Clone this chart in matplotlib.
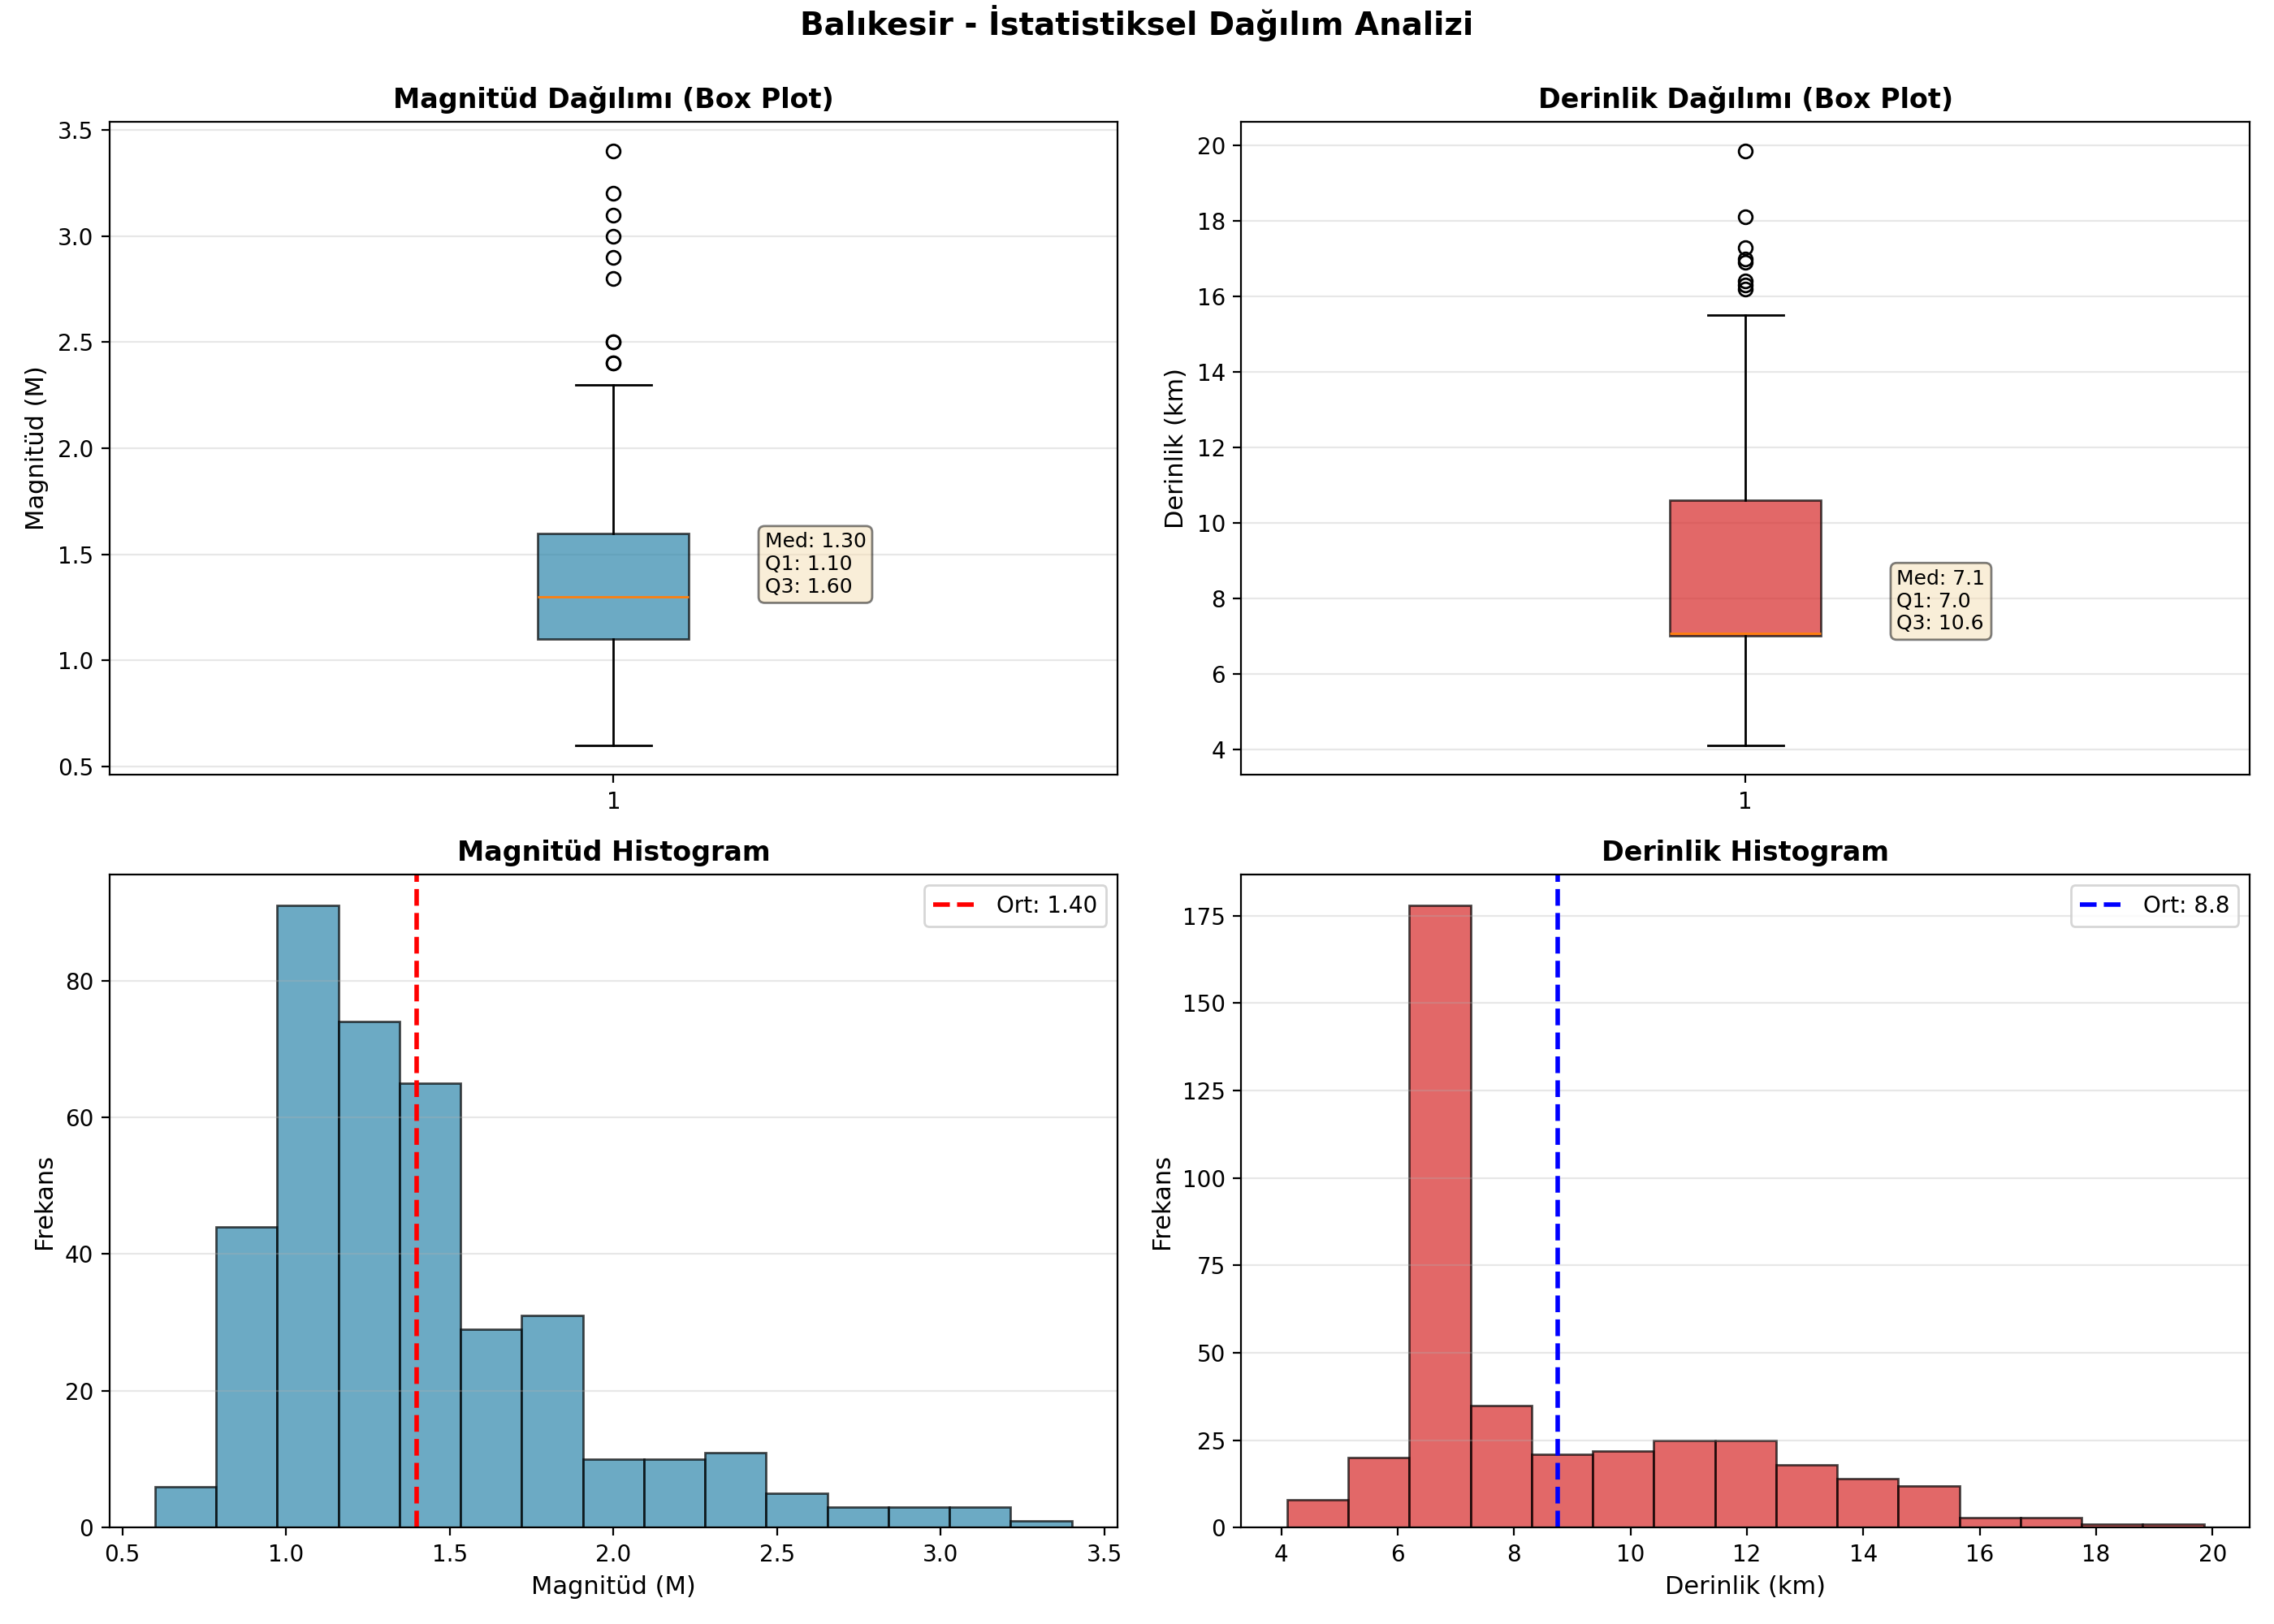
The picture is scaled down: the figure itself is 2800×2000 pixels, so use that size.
import numpy as np
import matplotlib
matplotlib.use("Agg")
from matplotlib import pyplot as plt

# box plot istatistikleri
mag_med, mag_q1, mag_q3 = 1.30, 1.10, 1.60
mag_whislo, mag_whishi = 0.6, 2.3
mag_fliers = [2.4, 2.4, 2.5, 2.5, 2.8, 2.9, 3.0, 3.1, 3.2, 3.4]
mag_mean = 1.40

der_med, der_q1, der_q3 = 7.06, 7.0, 10.6
der_whislo, der_whishi = 4.1, 15.5
der_fliers = [16.2, 16.3, 16.4, 16.9, 17.0, 17.3, 18.1, 19.85]
der_mean = 8.75

# histogram frekanslari (15 bin)
mag_min, mag_max = 0.6, 3.4
mag_counts = [6, 44, 91, 74, 65, 29, 31, 10, 10, 11, 5, 3, 3, 3, 1]
der_min, der_max = 4.1, 19.85
der_counts = [8, 20, 178, 35, 21, 22, 25, 25, 18, 14, 12, 3, 3, 1, 1]

mavi = "#2E86AB"
kirmizi = "#D62828"

fig, axes = plt.subplots(2, 2, figsize=(14, 10))
st = fig.suptitle("Balıkesir - İstatistiksel Dağılım Analizi", fontsize=14, fontweight="bold")


def kutu(ax, med, q1, q3, lo, hi, fl, renk, baslik, etiket, fmt):
    stats = [{"med": med, "q1": q1, "q3": q3, "whislo": lo, "whishi": hi, "fliers": fl}]
    bp = ax.bxp(stats, patch_artist=True)
    for p in bp["boxes"]:
        p.set_facecolor(renk)
        p.set_alpha(0.7)
    ax.set_title(baslik, fontweight="bold", fontsize=12)
    ax.set_ylabel(etiket, fontsize=11)
    ax.grid(True, axis="y", alpha=0.3)
    txt = ("Med: " + fmt + "\nQ1: " + fmt + "\nQ3: " + fmt) % (med, q1, q3)
    ax.text(1.15, med, txt, fontsize=9, va="bottom",
            bbox=dict(boxstyle="round", facecolor="wheat", alpha=0.5))


kutu(axes[0, 0], mag_med, mag_q1, mag_q3, mag_whislo, mag_whishi, mag_fliers,
     mavi, "Magnitüd Dağılımı (Box Plot)", "Magnitüd (M)", "%.2f")
kutu(axes[0, 1], der_med, der_q1, der_q3, der_whislo, der_whishi, der_fliers,
     kirmizi, "Derinlik Dağılımı (Box Plot)", "Derinlik (km)", "%.1f")


def histo(ax, mn, mx, counts, renk, ort, ort_renk, lbl, baslik, etiket):
    edges = np.linspace(mn, mx, len(counts) + 1)
    ax.hist(edges[:-1], bins=edges, weights=counts, color=renk, edgecolor="black",
            alpha=0.7)
    ax.axvline(ort, color=ort_renk, linestyle="--", linewidth=2, label=lbl)
    ax.set_title(baslik, fontweight="bold", fontsize=12)
    ax.set_xlabel(etiket, fontsize=11)
    ax.set_ylabel("Frekans", fontsize=11)
    ax.legend()
    ax.grid(True, axis="y", alpha=0.3)


histo(axes[1, 0], mag_min, mag_max, mag_counts, mavi, mag_mean, "red",
      "Ort: %.2f" % mag_mean, "Magnitüd Histogram", "Magnitüd (M)")
histo(axes[1, 1], der_min, der_max, der_counts, kirmizi, der_mean, "blue",
      "Ort: %.1f" % 8.8, "Derinlik Histogram", "Derinlik (km)")

plt.tight_layout()
st.set_y(0.997)
plt.savefig("out.png", dpi=200)
